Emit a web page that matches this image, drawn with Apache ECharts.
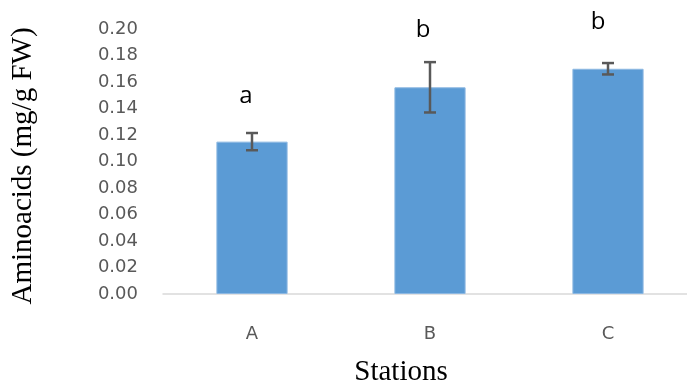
<!DOCTYPE html>
<html>
<head>
<meta charset="utf-8">
<script src="https://cdn.jsdelivr.net/npm/echarts@6/dist/echarts.min.js"></script>
<style>
  html, body { margin: 0; padding: 0; background: #fff; }
  #chart { width: 687px; height: 386px; }
</style>
</head>
<body>
<div id="chart"></div>
<script>
// Stations and mean amino acid content (mg/g FW)
const stations = ['A', 'B', 'C'];
const means = [0.115, 0.156, 0.170];
// Half-width of the error bars
const errors = [0.0065, 0.019, 0.0043];
// Significance letters above each bar
const groups = ['a', 'b', 'b'];

// Letter placement (pixels above error-bar top, horizontal nudge)
const letterLift = [37, 32, 41];
const letterShift = [-6, -7, -10];

const chart = echarts.init(document.getElementById('chart'));

const errData = stations.map((s, i) => [i, means[i] - errors[i], means[i] + errors[i]]);

chart.setOption({
  animation: false,
  // plot area runs slightly past the right edge of the canvas
  grid: { left: 163, width: 534, top: 29, bottom: 92, containLabel: false, outerBoundsMode: 'none' },
  xAxis: {
    type: 'category',
    data: stations,
    axisLine: { show: true, lineStyle: { color: '#d9d9d9', width: 1.5 } },
    axisTick: { show: false },
    axisLabel: { color: '#595959', fontFamily: 'DejaVu Sans', fontSize: 18, margin: 31 }
  },
  yAxis: {
    type: 'value',
    min: 0,
    max: 0.2,
    interval: 0.02,
    axisLine: { show: false },
    axisTick: { show: false },
    splitLine: { show: false },
    axisLabel: {
      color: '#595959', fontFamily: 'DejaVu Sans', fontSize: 18, margin: 25,
      formatter: v => v.toFixed(2)
    }
  },
  series: [
    {
      type: 'bar',
      data: means,
      barWidth: '40%',
      itemStyle: { color: '#5b9bd5', borderColor: '#8db8e2', borderWidth: 1 }
    },
    {
      type: 'custom',
      data: errData,
      z: 10,
      clip: false,
      renderItem: function (params, api) {
        const i = api.value(0);
        const lo = api.coord([i, api.value(1)]);
        const hi = api.coord([i, api.value(2)]);
        const cap = 6;
        const st = { stroke: '#595959', lineWidth: 2.5 };
        return {
          type: 'group',
          children: [
            { type: 'line', shape: { x1: hi[0], y1: hi[1], x2: lo[0], y2: lo[1] }, style: st },
            { type: 'line', shape: { x1: hi[0] - cap, y1: hi[1], x2: hi[0] + cap, y2: hi[1] }, style: st },
            { type: 'line', shape: { x1: lo[0] - cap, y1: lo[1], x2: lo[0] + cap, y2: lo[1] }, style: st },
            {
              type: 'text',
              style: {
                text: groups[i],
                x: hi[0] + letterShift[i],
                y: hi[1] - letterLift[i],
                fill: '#000',
                font: '24px "Open Sans"',
                textAlign: 'center',
                textVerticalAlign: 'middle'
              }
            }
          ]
        };
      }
    }
  ],
  graphic: [
    {
      type: 'text',
      x: 23,
      y: 166,
      rotation: Math.PI / 2,
      style: {
        text: 'Aminoacids (mg/g FW)',
        font: '29px "Liberation Serif"',
        fill: '#000',
        textAlign: 'center',
        textVerticalAlign: 'middle'
      }
    },
    {
      type: 'text',
      x: 401,
      y: 372,
      style: {
        text: 'Stations',
        font: '29px "Liberation Serif"',
        fill: '#000',
        textAlign: 'center',
        textVerticalAlign: 'middle'
      }
    }
  ]
});
</script>
</body>
</html>
